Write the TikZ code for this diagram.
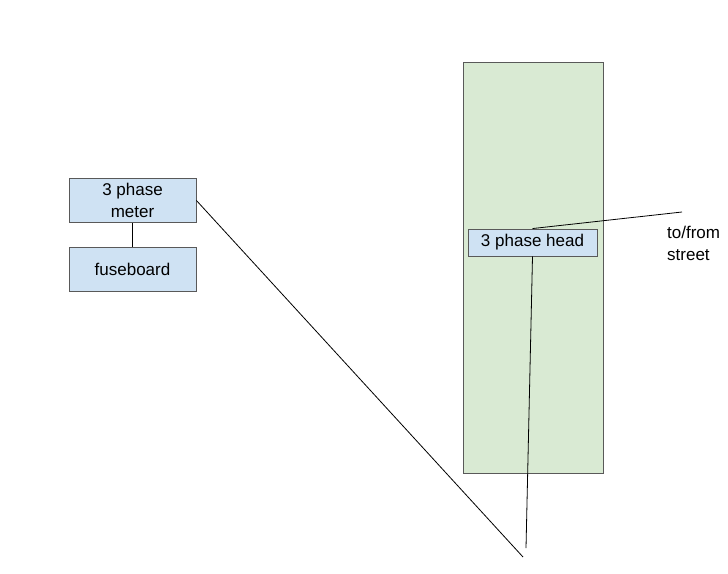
\documentclass[tikz,border=0pt]{standalone}
\usepackage{fontspec}
\setmainfont{Liberation Sans}
\definecolor{boxblue}{HTML}{CFE2F3}
\definecolor{boxgreen}{HTML}{D9EAD3}
\definecolor{edge}{HTML}{595959}
\begin{document}
\begin{tikzpicture}[x=1pt,y=-1pt,
  bluebox/.style={draw=edge,fill=boxblue,line width=0.9pt,inner sep=0pt,align=center,
    font=\fontsize{17}{22}\selectfont},
  wire/.style={draw=black,line width=0.8pt}]
\useasboundingbox (0,0) rectangle (728,573);
\fill[white] (0,0) rectangle (728,573);
\node[draw=edge,fill=boxgreen,line width=0.9pt,minimum width=140pt,minimum height=411pt,inner sep=0pt] (house) at (533,267.5) {};
\node[bluebox,minimum width=127pt,minimum height=44pt] (meter) at (132.5,200.5) {3 phase\\meter};
\node[bluebox,minimum width=127pt,minimum height=44pt] (fuse) at (132.5,269) {fuseboard};
\node[bluebox,minimum width=129pt,minimum height=27pt] (head) at (532.5,242.5) {3 phase head};
\node[anchor=north west,align=left,inner sep=0pt,font=\fontsize{17}{22}\selectfont] (street) at (667,226) {to/from\\street};
\coordinate (streetend) at (682,212);
\coordinate (endA) at (526,548);
\coordinate (endB) at (523,557);
\draw[wire] (meter.south) -- (fuse.north);
\draw[wire] (head.north) -- (streetend);
\draw[wire] (head.south) -- (endA);
\draw[wire] (meter.east) -- (endB);
\end{tikzpicture}
\end{document}
